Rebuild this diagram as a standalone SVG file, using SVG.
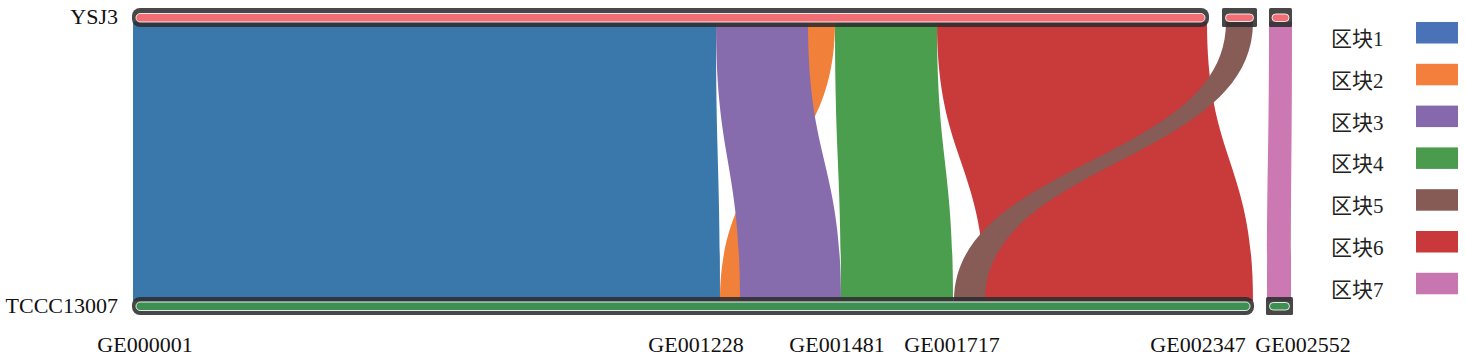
<svg xmlns="http://www.w3.org/2000/svg" width="1465" height="361" viewBox="0 0 1465 361">
<style>
.lbl{font-family:"Liberation Serif","Noto Sans CJK SC",serif;font-size:22px;fill:#111}
.leg{font-family:"Liberation Serif","Noto Sans CJK SC",serif;font-size:21px;fill:#222}
.bar{fill:#2e2e2e;fill-opacity:0.88}
.pill{stroke:#ffffff;stroke-width:1;stroke-opacity:0.85}
.top{fill:#f06e74}
.bot{fill:#3d9052}
</style>
<rect width="1465" height="361" fill="#ffffff"/>
<g id="connectors">
<path id="b1" fill="#3a77aa" d="M133,22 L716,22 C716,161.5 720,161.5 720,301 L133,301 C133,161.5 133,161.5 133,22 Z"/>
<path id="b2" fill="#f0803a" d="M808,22 L835,22 C835,161.5 740,161.5 740,301 L720,301 C720,161.5 808,161.5 808,22 Z"/>
<path id="b3" fill="#866bad" d="M716,22 L808,22 C808,161.5 841,161.5 841,301 L740,301 C740,161.5 716,161.5 716,22 Z"/>
<path id="b4" fill="#4a9e4e" d="M835,22 L937,22 C937,161.5 953,161.5 953,301 L841,301 C841,161.5 835,161.5 835,22 Z"/>
<path id="b6" fill="#c93a3b" d="M937,22 L1207,22 C1207,161.5 1253,161.5 1253,301 L985,301 C985,161.5 937,161.5 937,22 Z"/>
<path id="b5" fill="#875b56" d="M1226,22 L1253,22 C1253,161.5 985,161.5 985,301 L954,301 C954,161.5 1226,161.5 1226,22 Z"/>
<path id="b7" fill="#cb78b3" d="M1269,22 L1292,22 C1292,161.5 1291,161.5 1291,301 L1267,301 C1267,161.5 1269,161.5 1269,22 Z"/>
</g>
<g id="chr-top">
<rect class="bar" x="132" y="8" width="1077" height="19" rx="8"/>
<rect class="pill top" x="136" y="13.5" width="1069" height="8.5" rx="4.2"/>
<rect class="bar" x="1222" y="8" width="35" height="19" rx="1.5"/>
<rect class="pill top" x="1225.5" y="14" width="28" height="7.5" rx="3.7"/>
<rect class="bar" x="1269" y="8" width="23" height="19" rx="1.5"/>
<rect class="pill top" x="1272" y="14" width="17" height="7.5" rx="3.7"/>
<text class="lbl" x="118" y="24" text-anchor="end">YSJ3</text>
</g>
<g id="chr-bottom">
<rect class="bar" x="132" y="297" width="1122" height="18" rx="8"/>
<rect class="pill bot" x="136" y="302" width="1114" height="8.5" rx="4.2"/>
<rect class="bar" x="1266" y="297" width="27" height="18" rx="1.5"/>
<rect class="pill bot" x="1269.5" y="302.5" width="20" height="7.5" rx="3.7"/>
<text class="lbl" x="118" y="313" text-anchor="end">TCCC13007</text>
</g>
<g id="gene-labels">
<text class="lbl" x="145" y="352" text-anchor="middle">GE000001</text>
<text class="lbl" x="696" y="352" text-anchor="middle">GE001228</text>
<text class="lbl" x="837" y="352" text-anchor="middle">GE001481</text>
<text class="lbl" x="952" y="352" text-anchor="middle">GE001717</text>
<text class="lbl" x="1198" y="352" text-anchor="middle">GE002347</text>
<text class="lbl" x="1303" y="352" text-anchor="middle">GE002552</text>
</g>
<g id="legend">
<g id="leg1"><text class="leg" x="1331" y="46">区块1</text><rect x="1416" y="22" width="42" height="21.5" fill="#4a72b8"/></g>
<g id="leg2"><text class="leg" x="1331" y="87.8">区块2</text><rect x="1416" y="63.8" width="42" height="21.5" fill="#f47f3c"/></g>
<g id="leg3"><text class="leg" x="1331" y="129.6">区块3</text><rect x="1416" y="105.6" width="42" height="21.5" fill="#8669ac"/></g>
<g id="leg4"><text class="leg" x="1331" y="171.4">区块4</text><rect x="1416" y="147.4" width="42" height="21.5" fill="#4a9b4e"/></g>
<g id="leg5"><text class="leg" x="1331" y="213.2">区块5</text><rect x="1416" y="189.2" width="42" height="21.5" fill="#865a55"/></g>
<g id="leg6"><text class="leg" x="1331" y="255">区块6</text><rect x="1416" y="231" width="42" height="21.5" fill="#c9393b"/></g>
<g id="leg7"><text class="leg" x="1331" y="296.8">区块7</text><rect x="1416" y="272.8" width="42" height="21.5" fill="#c876b0"/></g>
</g>
</svg>
